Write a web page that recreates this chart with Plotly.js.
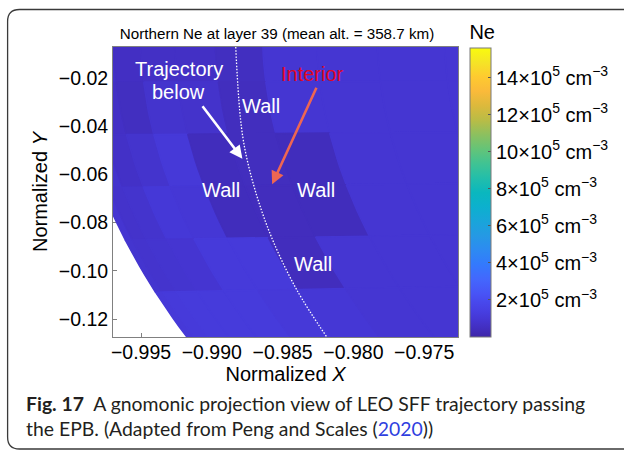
<!DOCTYPE html>
<html><head><meta charset="utf-8">
<script src="https://cdn.plot.ly/plotly-3.0.1.min.js"></script>
<style>html,body{margin:0;padding:0;background:#fff;}#chart{width:624px;height:451px;}</style>
</head><body><div id="chart"></div>
<script>
// ---- data ----
// longitude offsets (deg, from the -X axis) bounding each row band of the grid
const lonEdges = [0, 1.25, 2.5, 3.75, 5.0, 6.25, 7.5, 8.75];
// latitudes (deg) bounding each column band of the grid
const latEdges = [0.7, 1.95, 3.2, 4.45, 5.7, 6.95, 8.2, 9.45, 10.7, 11.95, 13.2, 14.45];
// Ne in units of 1e5 cm^-3, one row per lon band (top to bottom), one value per lat band
const neRow0 = [0.90, 0.90, 0.70, 0.55, 0.60, 0.60, 0.50, 0.92, 0.92, 0.92, 0.92];
const neRow1 = [0.90, 0.80, 0.60, 0.50, 0.80, 0.75, 0.45, 0.92, 0.92, 0.92, 0.92];
const neRow2 = [0.90, 0.80, 0.65, 0.80, 1.10, 0.40, 0.45, 0.40, 0.92, 0.92, 0.92];
const neRow3 = [0.90, 0.75, 0.80, 1.05, 1.00, 0.40, 0.42, 0.40, 0.92, 0.92, 0.92];
const neRow4 = [0.85, 0.80, 0.85, 0.90, 1.15, 1.15, 0.42, 0.92, 0.92, 0.92, 0.92];
const neRow5 = [1.10, 1.15, 1.20, 1.20, 1.20, 1.10, 1.00, 0.92, 0.92, 0.92, 0.92];
const neRow6 = [1.10, 1.10, 1.10, 1.10, 1.10, 1.00, 0.95, 0.92, 0.92, 0.92, 0.92];
const neRows = [neRow0, neRow1, neRow2, neRow3, neRow4, neRow5, neRow6];
// spacecraft trajectory (normalized X, Y)
const trajX = [-0.98831, -0.98784, -0.98702, -0.98574, -0.98398, -0.98188];
const trajY = [-0.00714, -0.04336, -0.06494, -0.08668, -0.10809, -0.12747];
// ticks
const xTicks = [-0.995, -0.990, -0.985, -0.980, -0.975];
const yTicks = [-0.12, -0.10, -0.08, -0.06, -0.04, -0.02];
const cbTickVals = [2, 4, 6, 8, 10, 12, 14];
const cbTickText = cbTickVals.map(v => v + '×10<sup>5</sup> cm<sup>−3</sup>');

// ---- colour scale (parula) ----
const parula = [
 [0.00,[62,38,168]],[0.03,[66,46,191]],[0.06,[69,54,211]],[0.09,[71,63,226]],
 [0.12,[72,72,236]],[0.15,[72,84,246]],[0.20,[67,103,253]],[0.25,[52,121,253]],
 [0.30,[45,138,242]],[0.35,[37,153,228]],[0.40,[25,165,218]],[0.45,[12,176,206]],
 [0.50,[10,183,190]],[0.55,[35,190,170]],[0.60,[64,195,147]],[0.65,[100,196,120]],
 [0.70,[140,192,95]],[0.75,[185,188,70]],[0.80,[220,185,60]],[0.85,[250,186,58]],
 [0.90,[254,202,48]],[0.95,[245,228,38]],[1.00,[249,251,14]]
];
const cmin = 0, cmax = 15.6;
const colorscale = parula.map(s => [s[0], 'rgb(' + s[1].join(',') + ')']);
function colorOf(v) {
  let t = Math.max(0, Math.min(1, (v - cmin) / (cmax - cmin)));
  for (let i = 1; i < parula.length; i++) {
    if (t <= parula[i][0]) {
      const a = parula[i-1], b = parula[i];
      const f = (t - a[0]) / (b[0] - a[0]);
      const c = a[1].map((x, k) => Math.round(x + f * (b[1][k] - x)));
      return 'rgb(' + c.join(',') + ')';
    }
  }
  return 'rgb(' + parula[parula.length-1][1].join(',') + ')';
}
function proj(lat, lon) {
  const r = Math.cos(lat * Math.PI / 180), t = lon * Math.PI / 180;
  return [-r * Math.cos(t), -r * Math.sin(t)];
}

const FONT = 'Liberation Sans, Arial, sans-serif';
const traces = [];
const cx = [], cy = [], cv = [];
for (let i = 0; i < lonEdges.length - 1; i++) {
  for (let j = 0; j < latEdges.length - 1; j++) {
    const xs = [], ys = [];
    const n = 6;
    for (let k = 0; k <= n; k++) {
      const p = proj(latEdges[j], lonEdges[i] + (lonEdges[i+1] - lonEdges[i]) * k / n);
      xs.push(p[0]); ys.push(p[1]);
    }
    for (let k = n; k >= 0; k--) {
      const p = proj(latEdges[j+1], lonEdges[i] + (lonEdges[i+1] - lonEdges[i]) * k / n);
      xs.push(p[0]); ys.push(p[1]);
    }
    xs.push(xs[0]); ys.push(ys[0]);
    const col = colorOf(neRows[i][j]);
    traces.push({type: 'scatter', mode: 'lines', x: xs, y: ys, fill: 'toself',
      fillcolor: col, line: {color: col, width: 1.5}, hoverinfo: 'skip', showlegend: false});
    const c = proj((latEdges[j] + latEdges[j+1]) / 2, (lonEdges[i] + lonEdges[i+1]) / 2);
    cx.push(c[0]); cy.push(c[1]); cv.push(neRows[i][j]);
  }
}
traces.push({type: 'scatter', mode: 'lines', x: trajX, y: trajY,
  line: {color: '#ffffff', width: 1.3, dash: '1.5px,1.6px', shape: 'spline'}, hoverinfo: 'skip', showlegend: false});
traces.push({type: 'scatter', mode: 'markers', x: cx, y: cy, hoverinfo: 'skip', showlegend: false,
  marker: {size: 1, opacity: 0, color: cv, colorscale: colorscale, cmin: cmin, cmax: cmax, showscale: true,
    colorbar: {thickness: 21, thicknessmode: 'pixels', len: 1.09, lenmode: 'fraction',
      x: 1.0346, xanchor: 'left', xref: 'paper', y: 0, yanchor: 'bottom', xpad: 0, ypad: 0,
      outlinecolor: '#7a7a7a', outlinewidth: 1, ticks: 'inside', ticklen: 3, tickcolor: '#555',
      tickvals: cbTickVals, ticktext: cbTickText, tickfont: {family: FONT, size: 20, color: '#000'},
      title: {text: 'Ne', side: 'top', font: {family: FONT, size: 20, color: '#000'}}}}});

const white = {family: FONT, size: 20, color: '#ffffff'};
function lab(text, x, y, font) {
  return {text: text, x: x, y: y, xref: 'x', yref: 'y', showarrow: false, font: font || white,
    xanchor: 'center', yanchor: 'middle'};
}
function arrow(x, y, ax, ay, color) {
  return {text: '', x: x, y: y, xref: 'x', yref: 'y', ax: ax, ay: ay, axref: 'pixel', ayref: 'pixel',
    showarrow: true, arrowhead: 2, arrowsize: 1, arrowwidth: 2.6, arrowcolor: color, standoff: 0, startstandoff: 0};
}
const annotations = [
  lab('Trajectory', -0.99233, -0.01627),
  lab('below', -0.99233, -0.02581),
  lab('Wall', -0.98651, -0.03162),
  lab('Wall', -0.98932, -0.06627),
  lab('Wall', -0.98265, -0.06647),
  lab('Wall', -0.98286, -0.09718),
  lab('Interior', -0.98286, -0.01822, {family: FONT, size: 20, color: 'rgb(226,6,36)'}),
  arrow(-0.98784, -0.05349, -41, -54, '#ffffff'),
  arrow(-0.98574, -0.06411, 45, -98, 'rgb(238,102,82)'),
  {text: '<b>Fig. 17</b>\u00a0\u00a0A gnomonic projection view of LEO SFF trajectory passing<br>the EPB. (Adapted from Peng and Scales (<span style="color:#2f3fe0">2020</span>))',
   x: -0.2594, y: -0.2720, xref: 'paper', yref: 'paper', xanchor: 'left', yanchor: 'middle', align: 'left',
   showarrow: false, font: {family: 'Lato, sans-serif', size: 19.4, color: '#231f20'}}
];

const axisCommon = {showgrid: false, zeroline: false, showline: true, linecolor: '#808080', linewidth: 1,
  mirror: true, ticks: 'inside', ticklen: 4, tickcolor: '#808080', layer: 'below traces',
  tickfont: {family: FONT, size: 19.5, color: '#000'}};
const layout = {
  width: 624, height: 451, autosize: false,
  margin: {l: 113, r: 164, t: 47, b: 114, pad: 0},
  paper_bgcolor: '#ffffff', plot_bgcolor: '#ffffff',
  title: {text: 'Northern Ne at layer 39 (mean alt. = 358.7 km)', font: {family: FONT, size: 15.2, color: '#000'},
    x: 0.4755, xref: 'paper', xanchor: 'center', y: 1 - 34 / 451, yref: 'container', yanchor: 'middle'},
  xaxis: Object.assign({}, axisCommon, {range: [-0.99698, -0.97261], tickvals: xTicks, tickformat: '.3f',
    ticklabelstandoff: -2,
    title: {text: 'Normalized <i>X</i>', font: {family: FONT, size: 20, color: '#000'}, standoff: 0}}),
  yaxis: Object.assign({}, axisCommon, {range: [-0.12747, -0.00714], tickvals: yTicks, tickformat: '.2f',
    title: {text: 'Normalized <i>Y</i>', font: {family: FONT, size: 20, color: '#000'}, standoff: 5}}),
  annotations: annotations,
  shapes: [{type: 'path', xref: 'paper', yref: 'paper',
    path: 'M 1.52,1.1293 L -0.2709,1.1293 Q -0.3055,1.1293 -0.3055,1.0879 L -0.3055,-0.3448 Q -0.3055,-0.3862 -0.2709,-0.3862 L 1.52,-0.3862',
    line: {color: '#3a3a3a', width: 1.3}}]
};
Plotly.newPlot('chart', traces, layout, {displayModeBar: false, staticPlot: true});
</script></body></html>
